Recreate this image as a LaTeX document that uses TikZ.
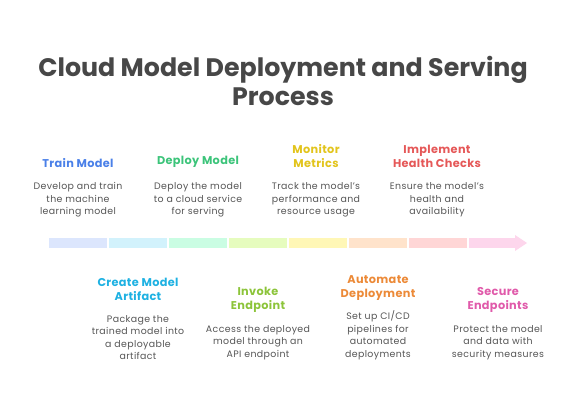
\documentclass[tikz,border=0pt]{standalone}
\usepackage{fontspec}
\setmainfont{Poppins}
\usetikzlibrary{positioning}
\definecolor{ink}{HTML}{474747}
\definecolor{desc}{HTML}{555555}
\definecolor{c1}{HTML}{DCE6FD}
\definecolor{c2}{HTML}{D2F2FC}
\definecolor{c3}{HTML}{CAFDE3}
\definecolor{c4}{HTML}{E6FCBE}
\definecolor{c5}{HTML}{FFF7B6}
\definecolor{c6}{HTML}{FFE3CB}
\definecolor{c7}{HTML}{FFD6D6}
\definecolor{c8}{HTML}{FDD6EC}
\definecolor{t1}{HTML}{4A80E8}
\definecolor{t2}{HTML}{1EB1E2}
\definecolor{t3}{HTML}{3CC47A}
\definecolor{t4}{HTML}{8CC43A}
\definecolor{t5}{HTML}{E2C41C}
\definecolor{t6}{HTML}{EC8A38}
\definecolor{t7}{HTML}{E55858}
\definecolor{t8}{HTML}{E05AAA}
\tikzset{
  seg/.style={fill=#1, draw=none, minimum width=58pt, minimum height=10pt, inner sep=0pt, outer sep=0pt},
  steptitle/.style={text=#1, font=\fontsize{11.3}{14}\selectfont\bfseries\addfontfeatures{LetterSpace=3}, align=center, inner sep=0pt},
  stepdesc/.style={text=desc, font=\fontsize{9.4}{12.5}\selectfont\addfontfeatures{LetterSpace=4}, align=center, inner sep=0pt},
}
\begin{document}
\begin{tikzpicture}[x=1pt,y=-1pt]
\useasboundingbox (0,0) rectangle (576,414);
\node[text=ink, font=\fontsize{25.3}{29}\selectfont\bfseries, align=center, inner sep=0pt] (title) at (283,81)
  {Cloud Model Deployment and Serving\\Process};
% bar
\node[seg=c1] (s1) at (78,243) {};
\node[seg=c2] (s2) at (138,243) {};
\node[seg=c3] (s3) at (198,243) {};
\node[seg=c4] (s4) at (258,243) {};
\node[seg=c5] (s5) at (318,243) {};
\node[seg=c6] (s6) at (378,243) {};
\node[seg=c7] (s7) at (438,243) {};
\node[seg=c8, minimum width=46pt] (s8) at (492,243) {};
\fill[c8] (s8.north east) -- (515,235) -- (527,243) -- (515,251) -- (s8.south east) -- cycle;
% top steps
\node[steptitle=t1, anchor=south] (h1) at (78,168) {Train Model};
\node[stepdesc, anchor=north] (d1) at (78,182.5) {Develop and train\\the machine\\learning model};
\node[steptitle=t3, anchor=south] (h3) at (198,168) {Deploy Model};
\node[stepdesc, anchor=north] (d3) at (198,182.5) {Deploy the model\\to a cloud service\\for serving};
\node[steptitle=t5, anchor=south] (h5) at (316,168) {Monitor\\Metrics};
\node[stepdesc, anchor=north] (d5) at (316,182.5) {Track the model's\\performance and\\resource usage};
\node[steptitle=t7, anchor=south] (h7) at (437,168) {Implement\\Health Checks};
\node[stepdesc, anchor=north] (d7) at (437,182.5) {Ensure the model's\\health and\\availability};
% bottom steps
\node[stepdesc, anchor=south] (d2) at (138,360) {Package the\\trained model into\\a deployable\\artifact};
\node[steptitle=t2, anchor=south] (h2) at (138,301) {Create Model\\Artifact};
\node[stepdesc, anchor=south] (d4) at (258,360) {Access the deployed\\model through an\\API endpoint};
\node[steptitle=t4, anchor=south] (h4) at (258,313) {Invoke\\Endpoint};
\node[stepdesc, anchor=south] (d6) at (378,360) {Set up CI/CD\\pipelines for\\automated\\deployments};
\node[steptitle=t6, anchor=south] (h6) at (378,301) {Automate\\Deployment};
\node[stepdesc, anchor=south] (d8) at (498,360) {Protect the model\\and data with\\security measures};
\node[steptitle=t8, anchor=south] (h8) at (498,313) {Secure\\Endpoints};
\end{tikzpicture}
\end{document}
